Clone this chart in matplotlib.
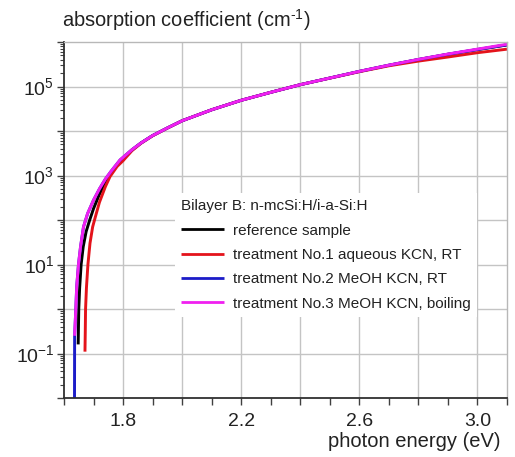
import numpy as np
import matplotlib
matplotlib.use("Agg")
import matplotlib.pyplot as plt
from matplotlib.ticker import FixedLocator, FuncFormatter, LogLocator, NullFormatter, MultipleLocator

plt.rcParams['font.family'] = ['Liberation Sans', 'DejaVu Sans']
plt.rcParams['mathtext.fontset'] = 'custom'
plt.rcParams['mathtext.rm'] = 'Liberation Sans'
plt.rcParams['mathtext.it'] = 'Liberation Sans:italic'

# ---- data (photon energy in eV, absorption coefficient in cm^-1) ----
E_ref = [1.648, 1.649, 1.650, 1.653, 1.658, 1.665, 1.675, 1.687, 1.700, 1.720, 1.740, 1.760,
         1.790, 1.830, 1.861, 1.900, 1.950, 2.000, 2.100, 2.200, 2.300, 2.400, 2.500, 2.600,
         2.700, 2.800, 2.900, 3.000, 3.100]
a_ref = [0.16, 0.4, 1.0, 3.0, 10, 25, 55, 100, 180, 380, 700, 1150,
         2150, 3750, 5400, 7900, 11700, 17000, 30000, 49000, 74000, 110000, 155000, 218000,
         300000, 403000, 530000, 675000, 860000]

E_t1 = [1.671, 1.672, 1.673, 1.676, 1.681, 1.688, 1.697, 1.705, 1.720, 1.740, 1.756, 1.780,
        1.800, 1.830, 1.861, 1.900, 1.950, 2.000, 2.100, 2.200, 2.300, 2.400, 2.500, 2.600,
        2.700, 2.800, 2.900, 3.000, 3.100]
a_t1 = [0.11, 0.3, 1.0, 3.0, 10, 30, 70, 110, 250, 560, 950, 1600,
        2150, 3600, 5300, 7800, 11600, 17000, 30000, 49000, 74000, 110000, 154000, 215000,
        292000, 372000, 460000, 575000, 690000]

E_t2 = [1.6355, 1.636, 1.638, 1.640, 1.643, 1.649, 1.656, 1.666, 1.680, 1.700, 1.720, 1.740,
        1.760, 1.790, 1.830, 1.861, 1.900, 1.950, 2.000, 2.100, 2.200, 2.300, 2.400, 2.500,
        2.600, 2.700, 2.800, 2.900, 3.000, 3.100]
a_t2 = [0.005, 0.25, 0.5, 1.0, 3.2, 10, 25, 70, 140, 280, 500, 830,
        1260, 2240, 3800, 5400, 7900, 11700, 17000, 30000, 49000, 74000, 110000, 155000,
        219000, 302000, 405000, 532000, 680000, 865000]

E_t3 = [1.636, 1.638, 1.640, 1.643, 1.649, 1.656, 1.666, 1.680, 1.700, 1.720, 1.740, 1.760,
        1.790, 1.830, 1.861, 1.900, 1.950, 2.000, 2.100, 2.200, 2.300, 2.400, 2.500, 2.600,
        2.700, 2.800, 2.900, 3.000, 3.100]
a_t3 = [0.25, 0.5, 1.0, 3.2, 10, 25, 70, 140, 280, 500, 830, 1260,
        2240, 3800, 5400, 7900, 11700, 17000, 30000, 49000, 74000, 110000, 155000, 219000,
        302000, 407000, 537000, 692000, 891000]

labels = ["reference sample",
          "treatment No.1 aqueous KCN, RT",
          "treatment No.2 MeOH KCN, RT",
          "treatment No.3 MeOH KCN, boiling"]
colors = ["#000000", "#e4131b", "#1c1cc8", "#f020f0"]
legend_title = "Bilayer B: n-mcSi:H/i-a-Si:H"

x_major = [1.8, 2.2, 2.6, 3.0]

fig = plt.figure(figsize=(5.15, 4.57), dpi=100)
ax = fig.add_axes([64/515, 1-398/457, (507-64)/515, (398-42)/457])

series = [(E_ref, a_ref), (E_t1, a_t1), (E_t2, a_t2), (E_t3, a_t3)]
for (E, a), c, lab in zip(series, colors, labels):
    ax.plot(E, a, color=c, lw=2.1, label=lab, solid_capstyle='butt')

ax.set_yscale('log')
ax.set_xlim(1.6, 3.1)
ax.set_ylim(1e-2, 1e6)

ax.yaxis.set_major_locator(FixedLocator([10.0**k for k in range(-2, 7)]))
ax.yaxis.set_major_formatter(FuncFormatter(
    lambda v, p: (r"$10^{%d}$" % round(np.log10(v))) if round(np.log10(v)) % 2 != 0 and 1e-2 < v < 1e6 else ""))
ax.yaxis.set_minor_locator(LogLocator(base=10, subs=np.arange(2, 10), numticks=20))
ax.yaxis.set_minor_formatter(NullFormatter())

ax.xaxis.set_major_locator(FixedLocator(x_major))
ax.xaxis.set_minor_locator(MultipleLocator(0.1))
ax.xaxis.set_major_formatter(FuncFormatter(lambda v, p: "%.1f" % v))

for g in np.arange(1.8, 3.01, 0.2):
    ax.axvline(g, color="#c4c4c4", lw=1.0, zorder=0)
for k in range(-1, 6):
    ax.axhline(10.0**k, color="#c4c4c4", lw=1.0, zorder=0)

ax.tick_params(axis='both', which='major', direction='out', length=5, width=1.0,
               labelsize=14, color='#404040', labelcolor='#222222')
ax.tick_params(axis='y', which='major', pad=2)
ax.tick_params(axis='x', which='major', pad=6)
ax.tick_params(axis='y', which='minor', direction='out', length=3, width=0.8, color='#404040')
ax.tick_params(axis='x', which='minor', direction='out', length=5, width=1.0, color='#404040')

for s in ['left', 'bottom']:
    ax.spines[s].set_color('#303030')
    ax.spines[s].set_linewidth(1.3)
for s in ['top', 'right']:
    ax.spines[s].set_color('#b8b8b8')
    ax.spines[s].set_linewidth(1.0)

leg = ax.legend(title=legend_title, loc='upper left', bbox_to_anchor=(175/515, 1-193/457),
                bbox_transform=fig.transFigure, frameon=True, fancybox=False,
                edgecolor='none', facecolor='white', framealpha=1.0,
                fontsize=11, title_fontsize=11, handlelength=2.8, handletextpad=0.62,
                labelspacing=0.68, borderpad=0.4, borderaxespad=0, alignment='left')
for t in leg.get_texts():
    t.set_color('#222222')
leg.get_title().set_color('#222222')
for h in leg.legend_handles:
    h.set_linewidth(2.0)

fig.text(62/515, 1-27/457, r"absorption coefficient (cm$^{\text{-1}}$)", fontsize=14.4,
         ha='left', va='baseline', color='#222222')
fig.text(500/515, 1-447/457, "photon energy (eV)", fontsize=14.5, ha='right', va='baseline',
         color='#222222')

fig.savefig("out.png", dpi=100)
